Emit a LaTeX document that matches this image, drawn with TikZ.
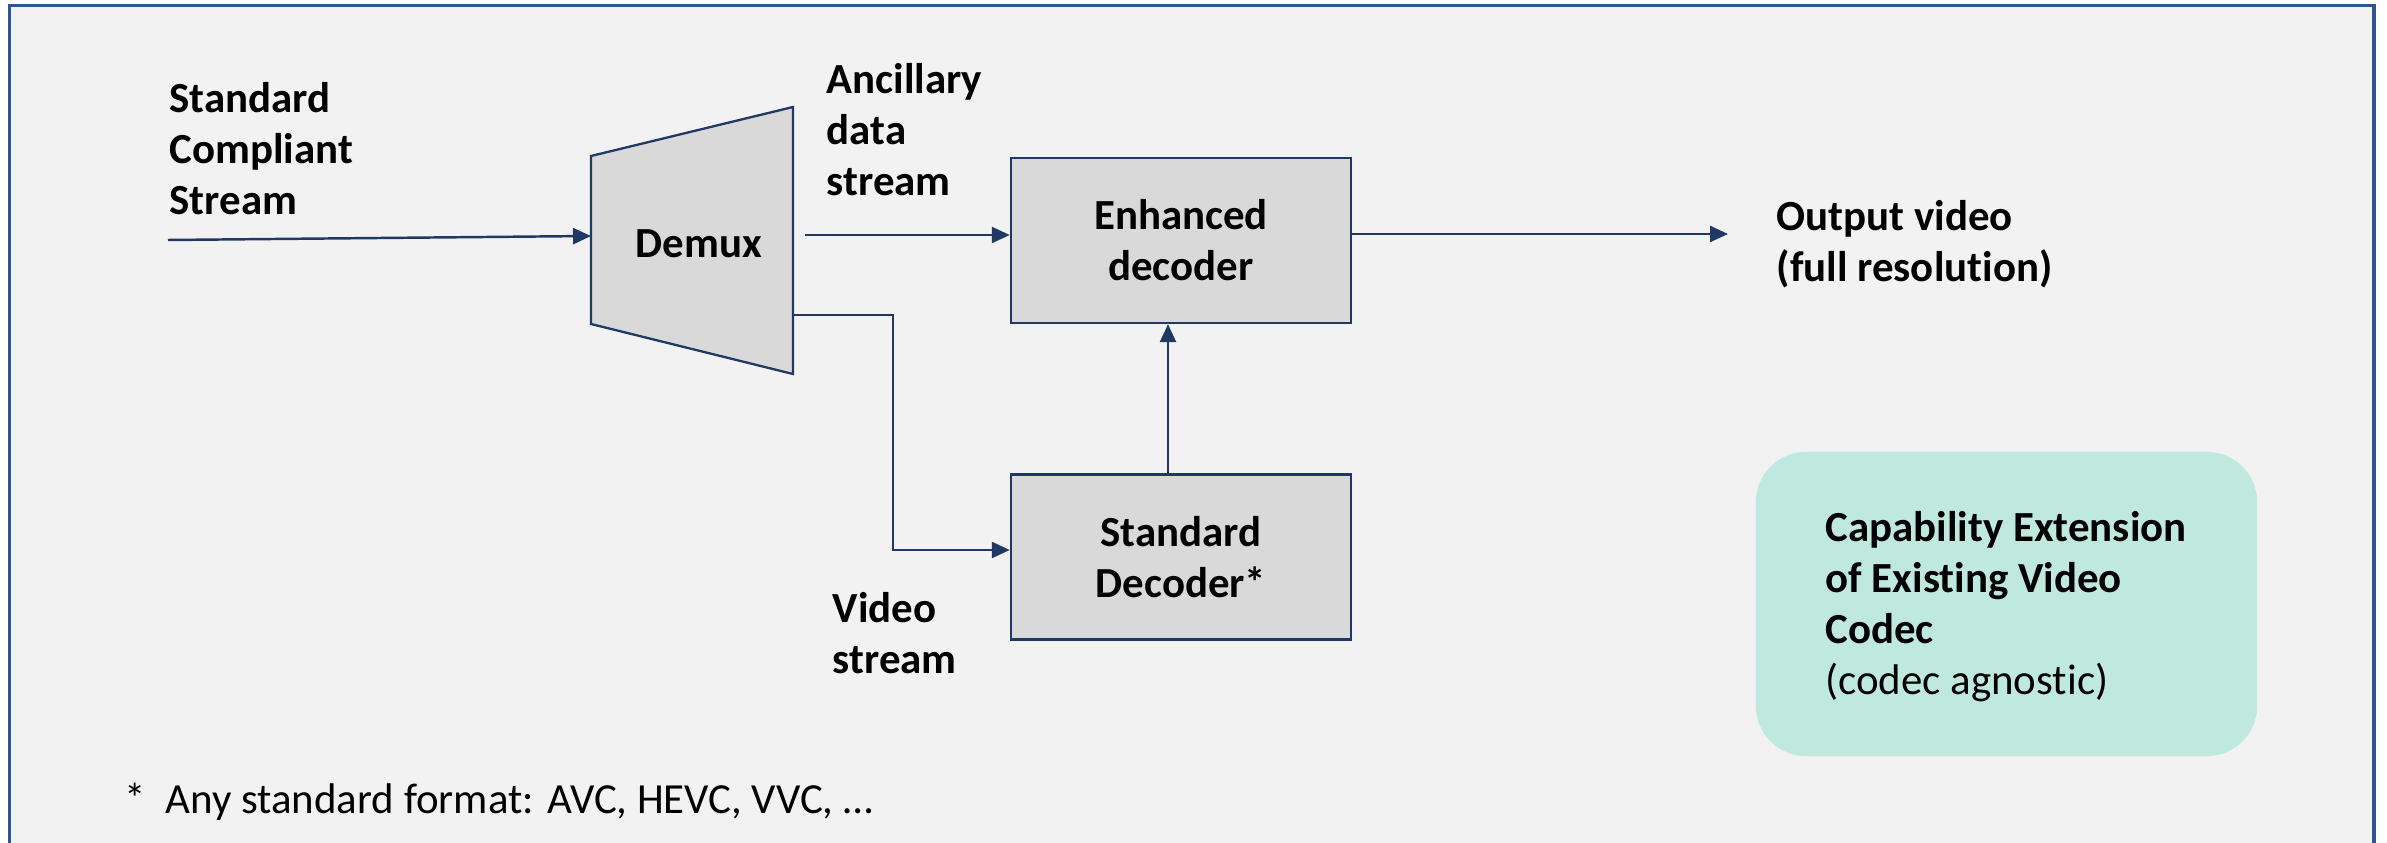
\documentclass[tikz,border=0pt]{standalone}
\usepackage{fontspec}
\setmainfont{Carlito}[Ligatures=NoCommon]
\usetikzlibrary{arrows.meta,calc}
\definecolor{navy}{HTML}{1F3864}
\definecolor{framec}{HTML}{2F5597}
\definecolor{boxfill}{HTML}{D9D9D9}
\definecolor{bgc}{HTML}{F2F2F2}
\definecolor{mint}{HTML}{BFE8DF}
\begin{document}
\begin{tikzpicture}[x=0.01cm,y=-0.01cm,
  lbl/.style={font=\fontsize{12.2}{14.6}\selectfont\bfseries, align=left, inner sep=0pt, anchor=base west},
  blk/.style={draw=navy, line width=0.65pt, fill=boxfill, minimum width=3.4cm, minimum height=1.65cm, align=center, inner sep=0pt, font=\fontsize{12.2}{14.5}\selectfont\bfseries},
  arr/.style={draw=navy, line width=0.7pt, -{Triangle[length=0.18cm,width=0.16cm]}},
  ln/.style={draw=navy, line width=0.65pt}]
\useasboundingbox (0,0) rectangle (2387,843);
\fill[white] (0,0) rectangle (2387,843);
\fill[bgc] (9.5,5.5) rectangle (2374,843);
\draw[framec, line width=0.9pt] (9.5,843) -- (9.5,5.5) -- (2374,5.5) -- (2374,843);

% demux
\draw[ln, fill=boxfill] (591,156) -- (793,107) -- (793,374) -- (591,324) -- cycle;
\node[font=\fontsize{12.2}{14.5}\selectfont\bfseries, inner sep=0pt, anchor=base] (demux) at (699,258) {Demux};

% blocks
\node[blk] (enh) at (1181,240.5) {Enhanced\\decoder};
\node[blk] (std) at (1181,557) {Standard\\Decoder*};

% labels (anchored at the baseline of the last line)
\node[lbl] (scs) at (169,215) {Standard\\Compliant\\Stream};
\node[lbl] (anc) at (826,196) {Ancillary\\data\\stream};
\node[lbl] (vid) at (832,674) {Video\\stream};
\node[lbl] (outv) at (1776,282) {Output video\\(full resolution)};

% capability box
\node[fill=mint, rounded corners=0.5cm, minimum width=5.01cm, minimum height=3.04cm, inner sep=0pt] (cap) at (2006.5,604) {};
\node[align=left, inner sep=0pt, font=\fontsize{12.2}{14.5}\selectfont] (captxt) at (2006,607)
  {\textbf{Capability Extension}\\\textbf{of Existing Video}\\\textbf{Codec}\\(codec agnostic)};

% footnote
\node[font=\fontsize{12.2}{14.5}\selectfont, inner sep=0pt, anchor=base west] (foot) at (124,813) {*~~Any standard format: AVC, HEVC, VVC, …};

% coordinates
\coordinate (inS) at (168,240);
\coordinate (inE) at (591,236);
\coordinate (ancS) at (805,235);
\coordinate (vidS) at (793,315);
\coordinate (vidK) at (893,315);
\coordinate (vidY) at (893,550);
\coordinate (outE) at (1728,234);
\coordinate (vx) at (1168,0);

% connectors
\draw[arr] (inS) -- (inE);
\draw[arr] (ancS) -- (ancS -| enh.west);
\draw[arr] (outE -| enh.east) -- (outE);
\draw[arr] (vx |- std.north) -- (vx |- enh.south);
\draw[arr] (vidS) -- (vidK) -- (vidY) -- (vidY -| std.west);
\end{tikzpicture}
\end{document}
